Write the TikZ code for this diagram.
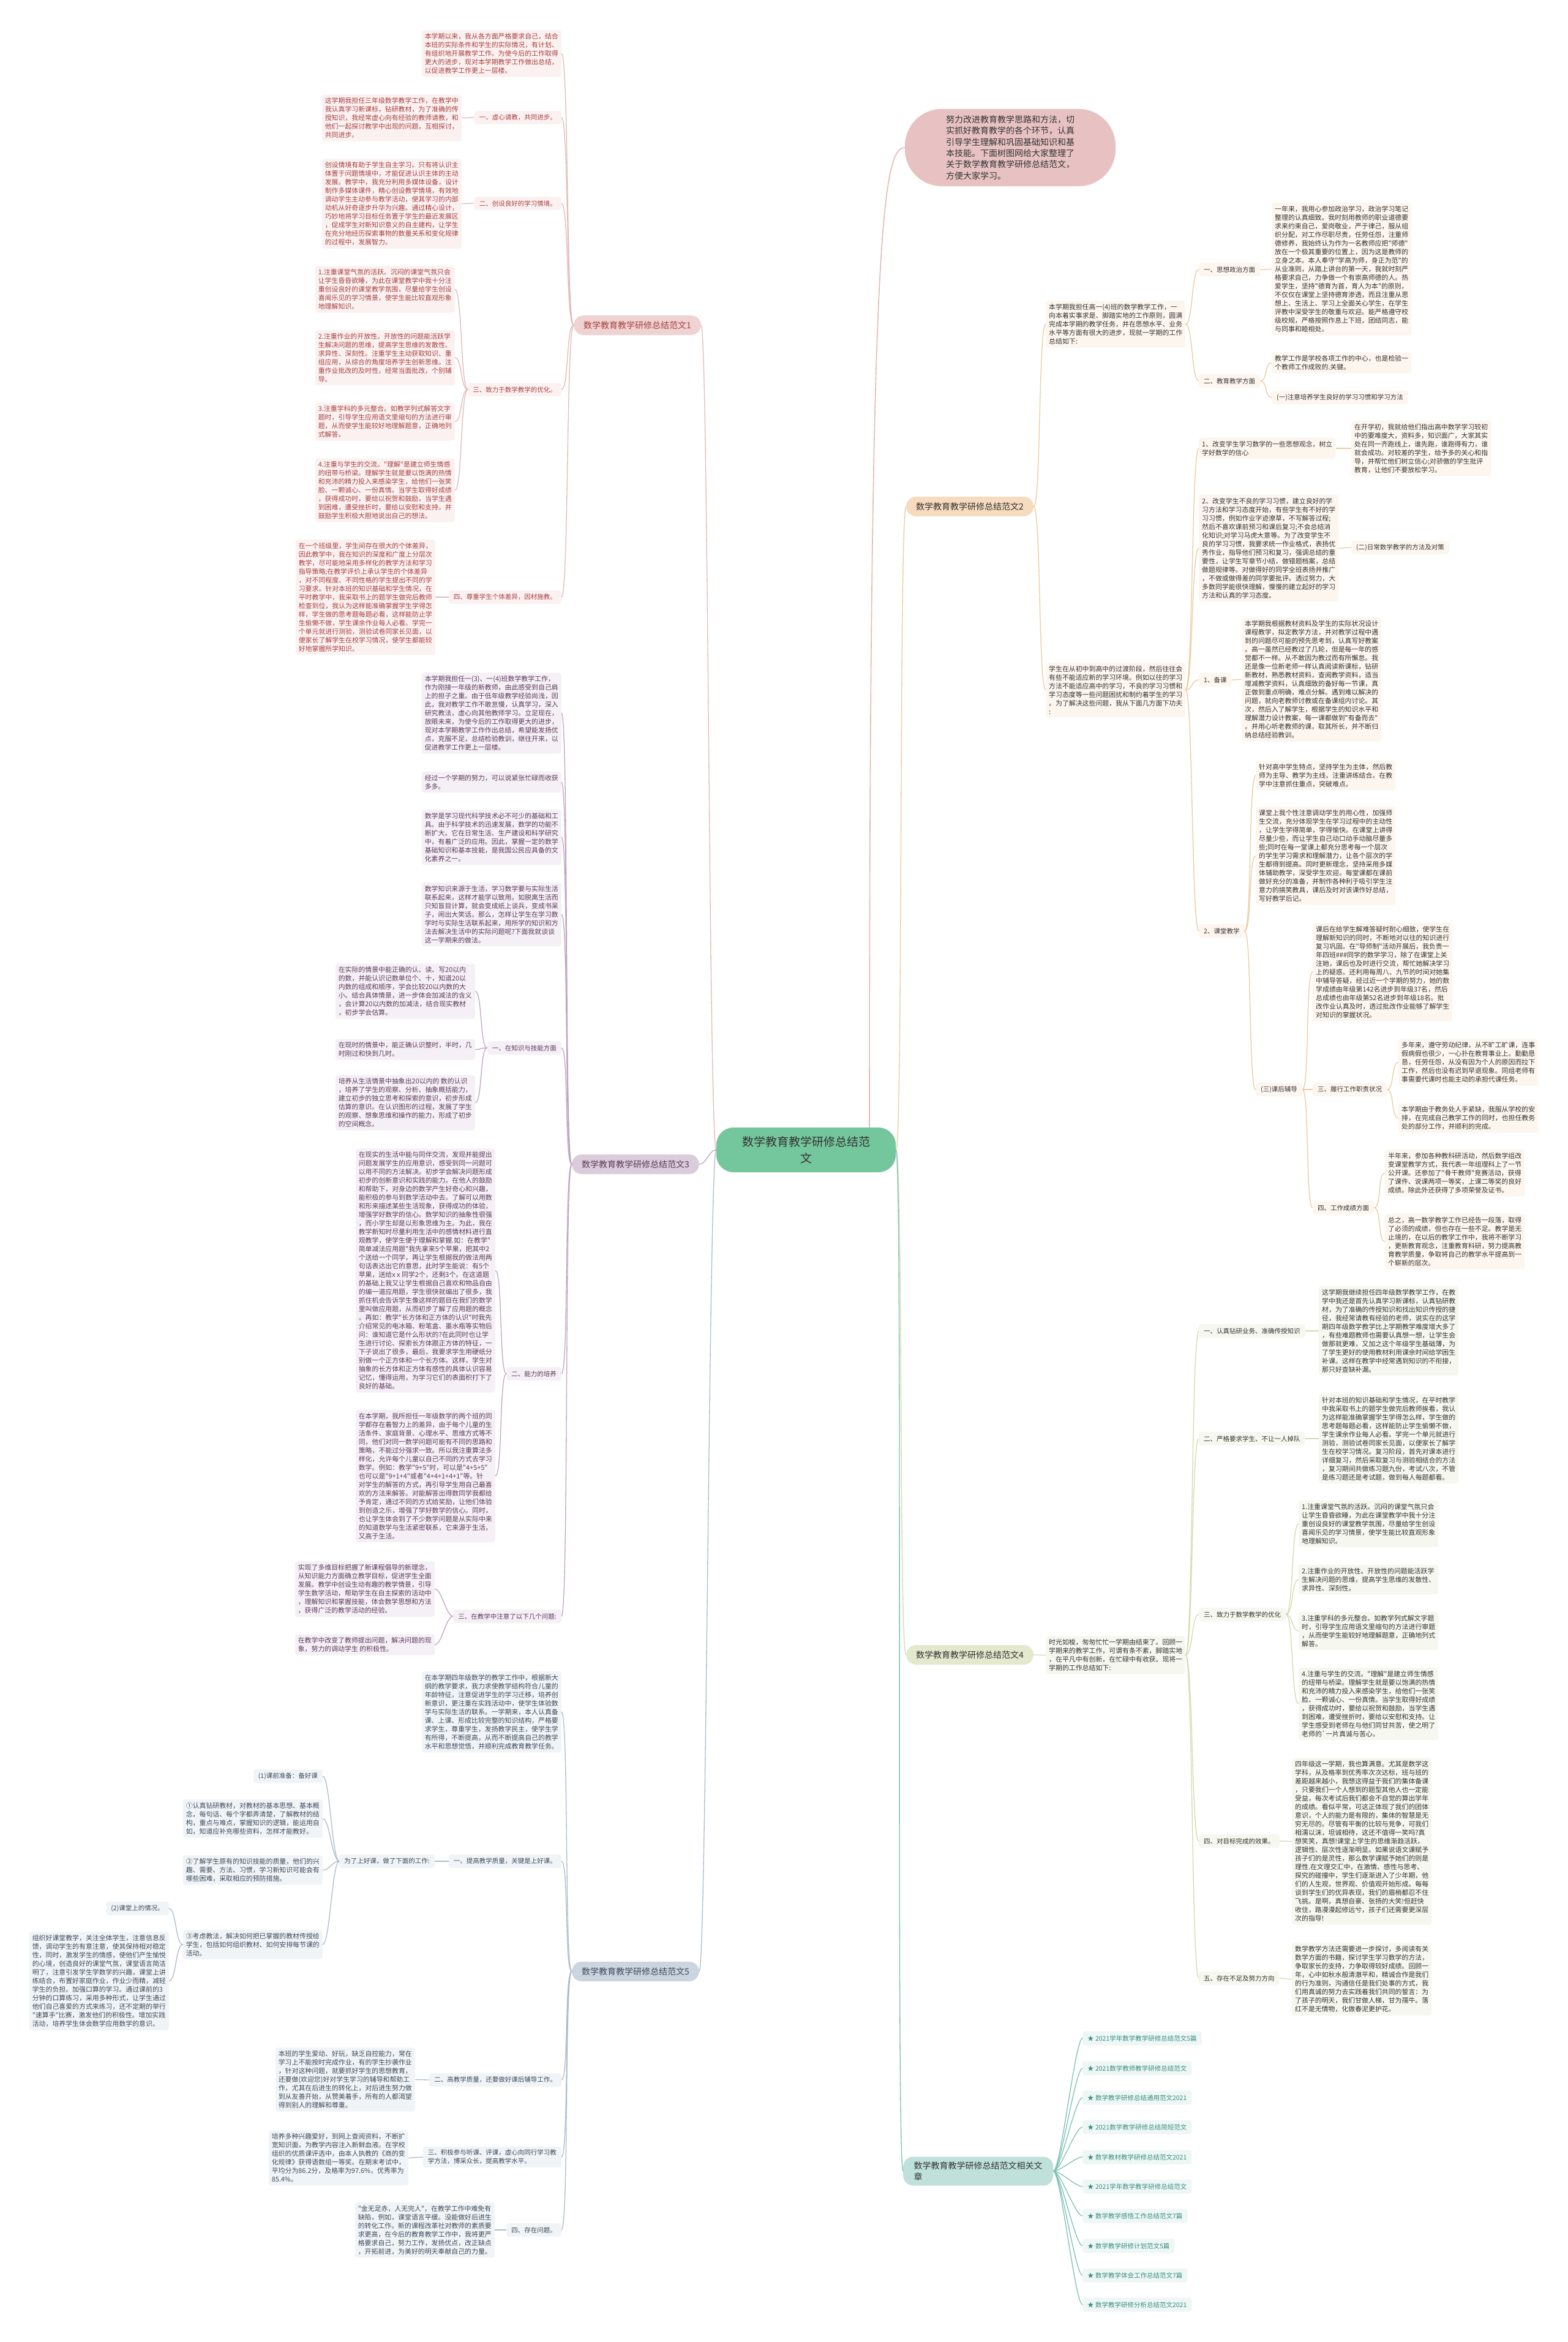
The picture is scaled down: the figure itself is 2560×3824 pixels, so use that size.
\documentclass[tikz,border=0pt]{standalone}
\usepackage{fontspec}
\newfontfamily\cjk{Noto Sans CJK SC}
\definecolor{t1}{HTML}{A8403F}\definecolor{f1}{HTML}{FBF1F1}\definecolor{l1}{HTML}{E3B9B9}\definecolor{h1}{HTML}{EFD2D2}
\definecolor{t2}{HTML}{333333}\definecolor{f2}{HTML}{FDF6EE}\definecolor{l2}{HTML}{EBCB9F}\definecolor{h2}{HTML}{F6DBBE}
\definecolor{t3}{HTML}{5C3A5C}\definecolor{f3}{HTML}{F5F0F5}\definecolor{l3}{HTML}{BFA6BF}\definecolor{h3}{HTML}{DACCDA}
\definecolor{t4}{HTML}{333333}\definecolor{f4}{HTML}{F6F7EF}\definecolor{l4}{HTML}{D5D9B2}\definecolor{h4}{HTML}{E4E8CC}
\definecolor{t5}{HTML}{3B4A5A}\definecolor{f5}{HTML}{F1F4F7}\definecolor{l5}{HTML}{AEBBCA}\definecolor{h5}{HTML}{CBD5DF}
\definecolor{t6}{HTML}{3A8E7E}\definecolor{f6}{HTML}{EEF7F5}\definecolor{l6}{HTML}{7CC2B3}\definecolor{h6}{HTML}{BFE1DA}
\definecolor{cf}{HTML}{74C69C}\definecolor{inf}{HTML}{E8C2C2}
\tikzset{
 leaf/.style={rounded corners=4pt, align=left, inner xsep=5pt, inner ysep=5pt, font=\cjk\fontsize{10.9pt}{14pt}\selectfont},
 sub/.style={rounded corners=4pt, align=left, inner xsep=8pt, inner ysep=5pt, minimum height=22pt, font=\cjk\fontsize{10.5pt}{14pt}\selectfont},
 brl/.style={rounded corners=16pt, align=left, inner xsep=16pt, minimum height=32pt, font=\cjk\fontsize{14pt}{18pt}\selectfont},
 lf1/.style={leaf,fill=f1,text=t1}, sb1/.style={sub,fill=f1,text=t1}, ln1/.style={draw=l1,line width=1.3pt},
 lf2/.style={leaf,fill=f2,text=t2}, sb2/.style={sub,fill=f2,text=t2}, ln2/.style={draw=l2,line width=1.3pt},
 lf3/.style={leaf,fill=f3,text=t3}, sb3/.style={sub,fill=f3,text=t3}, ln3/.style={draw=l3,line width=1.3pt},
 lf4/.style={leaf,fill=f4,text=t4}, sb4/.style={sub,fill=f4,text=t4}, ln4/.style={draw=l4,line width=1.3pt},
 lf5/.style={leaf,fill=f5,text=t5}, sb5/.style={sub,fill=f5,text=t5}, ln5/.style={draw=l5,line width=1.3pt},
 sb6/.style={sub,fill=f6,text=t6,minimum height=23pt}, ln6/.style={draw=l6,line width=1.3pt},
}
\newcommand{\lkL}[3]{\draw[#1] (#2.west) .. controls +(-12,0) and +(12,0) .. (#3.east);}
\newcommand{\lkR}[3]{\draw[#1] (#2.east) .. controls +(12,0) and +(-12,0) .. (#3.west);}
\begin{document}
\begin{tikzpicture}[x=1pt,y=-1pt]
\fill[white] (0,0) rectangle (2560,3824);
\useasboundingbox (0,0) rectangle (2560,3824);
% center and intro
\node[fill=cf, rounded corners=28pt, minimum width=293pt, minimum height=73pt, align=center, text=t2, font=\cjk\fontsize{19pt}{27pt}\selectfont] (C) at (1316.5,1877.5) {数学教育教学研修总结范\\文};
\node[fill=inf, rounded corners=60pt, minimum width=344pt, minimum height=126pt, align=left, text=t2, font=\cjk\fontsize{14pt}{18.3pt}\selectfont] (I) at (1650,241) {努力改进教育教学思路和方法，切\\实抓好教育教学的各个环节，认真\\引导学生理解和巩固基础知识和基\\本技能。下面树图网给大家整理了\\关于数学教育教学研修总结范文，\\方便大家学习。};
% branch labels
\node[brl,fill=h1,text=t1,anchor=east] (B1) at (1145,531) {数学教育教学研修总结范文1};
\node[brl,fill=h3,text=t3,anchor=east] (B3) at (1142,1901) {数学教育教学研修总结范文3};
\node[brl,fill=h5,text=t5,anchor=east] (B5) at (1142,3219) {数学教育教学研修总结范文5};
\node[brl,fill=h2,text=t2,anchor=west] (B2) at (1480,827) {数学教育教学研修总结范文2};
\node[brl,fill=h4,text=t4,anchor=west] (B4) at (1480,2702) {数学教育教学研修总结范文4};
\node[brl,fill=h6,text=t2,anchor=west,inner ysep=8pt,minimum width=245pt] (BR) at (1475,3545) {数学教育教学研修总结范文相关文\\章};
% ===== branch 1 =====
\node[lf1,anchor=east] (b1a) at (917,87.5) {本学期以来，我从各方面严格要求自己，结合\\本班的实际条件和学生的实际情况，有计划、\\有组织地开展教学工作。为使今后的工作取得\\更大的进步，现对本学期教学工作做出总结，\\以促进教学工作更上一层楼。};
\node[sb1,anchor=east] (b1s1) at (917,192) {一、虚心请教，共同进步。};
\node[lf1,anchor=east] (b1s1a) at (754,192.5) {这学期我担任三年级数学教学工作，在教学中\\我认真学习新课标，钻研教材，为了准确的传\\授知识，我经常虚心向有经验的教师请教，和\\他们一起探讨教学中出现的问题，互相探讨，\\共同进步。};
\node[sb1,anchor=east] (b1s2) at (917,332) {二、创设良好的学习情境。};
\node[lf1,anchor=east] (b1s2a) at (754,332.5) {创设情境有助于学生自主学习。只有将认识主\\体置于问题情境中，才能促进认识主体的主动\\发展。教学中，我充分利用多媒体设备，设计\\制作多媒体课件，精心创设教学情境，有效地\\调动学生主动参与教学活动，使其学习的内部\\动机从好奇逐步升华为兴趣。通过精心设计，\\巧妙地将学习目标任务置于学生的最近发展区\\，促成学生对新知识意义的自主建构，让学生\\在充分地经历探索事物的数量关系和变化规律\\的过程中，发展智力。};
\node[sb1,anchor=east] (b1s3) at (917,636) {三、致力于数学教学的优化。};
\node[lf1,anchor=east] (b1s3a) at (743,472.5) {1.注重课堂气氛的活跃。沉闷的课堂气氛只会\\让学生昏昏欲睡，为此在课堂教学中我十分注\\重创设良好的课堂教学氛围，尽量给学生创设\\喜闻乐见的学习情景，使学生能比较直观形象\\地理解知识。};
\node[lf1,anchor=east] (b1s3b) at (743,584) {2.注重作业的开放性。开放性的问题能活跃学\\生解决问题的思维，提高学生思维的发散性、\\求异性、深刻性。注重学生主动获取知识、重\\组应用，从综合的角度培养学生创新思维。注\\重作业批改的及时性，经常当面批改，个别辅\\导。};
\node[lf1,anchor=east] (b1s3c) at (743,688.5) {3.注重学科的多元整合。如教学列式解答文字\\题时，引导学生应用语文里缩句的方法进行审\\题，从而使学生能较好地理解题意，正确地列\\式解答。};
\node[lf1,anchor=east] (b1s3d) at (743,800.5) {4.注重与学生的交流。"理解"是建立师生情感\\的纽带与桥梁。理解学生就是要以饱满的热情\\和充沛的精力投入来感染学生，给他们一张笑\\脸、一颗诚心、一份真情。当学生取得好成绩\\，获得成功时，要给以祝贺和鼓励，当学生遇\\到困难，遭受挫折时，要给以安慰和支持。并\\鼓励学生积极大胆地说出自己的想法。};
\node[sb1,anchor=east] (b1s4) at (917,975) {四、尊重学生个体差异，因材施教。};
\node[lf1,anchor=east] (b1s4a) at (711,975) {在一个班级里，学生间存在很大的个体差异，\\因此教学中，我在知识的深度和广度上分层次\\教学，尽可能地采用多样化的教学方法和学习\\指导策略;在教学评价上承认学生的个体差异\\，对不同程度、不同性格的学生提出不同的学\\习要求。针对本班的知识基础和学生情况，在\\平时教学中，我采取书上的题学生做完后教师\\检查到位，我认为这样能准确掌握学生学得怎\\样，学生做的思考题每题必看，这样能防止学\\生偷懒不做，学生课余作业每人必看。学完一\\个单元就进行测验，测验试卷同家长见面，以\\便家长了解学生在校学习情况，使学生都能较\\好地掌握所学知识。};
% ===== branch 3 =====
\node[lf3,anchor=east] (b3a) at (917,1164.5) {本学期我担任一(3)、一(4)班数学教学工作，\\作为刚接一年级的新教师，由此感受到自己肩\\上的担子之重。由于低年级教学经验尚浅，因\\此，我对教学工作不敢怠慢，认真学习，深入\\研究教法，虚心向其他教师学习。立足现在，\\放眼未来，为使今后的工作取得更大的进步，\\现对本学期教学工作作出总结，希望能发扬优\\点，克服不足，总结检验教训，继往开来，以\\促进教学工作更上一层楼。};
\node[lf3,anchor=east] (b3b) at (917,1277) {经过一个学期的努力，可以说紧张忙碌而收获\\多多。};
\node[lf3,anchor=east] (b3c) at (917,1367) {数学是学习现代科学技术必不可少的基础和工\\具。由于科学技术的迅速发展，数学的功能不\\断扩大。它在日常生活、生产建设和科学研究\\中，有着广泛的应用。因此，掌握一定的数学\\基础知识和基本技能，是我国公民应具备的文\\化素养之一。};
\node[lf3,anchor=east] (b3d) at (917,1493) {数学知识来源于生活，学习数学要与实际生活\\联系起来，这样才能学以致用。如脱离生活而\\只知盲目计算，就会变成纸上谈兵，变成书呆\\子，闹出大笑话。那么，怎样让学生在学习数\\学时与实际生活联系起来，用所学的知识和方\\法去解决生活中的实际问题呢?下面我就谈谈\\这一学期来的做法。};
\node[sb3,anchor=east] (b3s1) at (917,1711) {一、在知识与技能方面};
\node[lf3,anchor=east] (b3e1) at (776,1618.5) {在实际的情景中能正确的认、读、写20以内\\的数，并能认识记数单位个、十，知道20以\\内数的组成和顺序，学会比较20以内数的大\\小。结合具体情景，进一步体会加减法的含义\\，会计算20以内数的加减法，结合现实教材\\，初步学会估算。};
\node[lf3,anchor=east] (b3e2) at (776,1713.5) {在现时的情景中，能正确认识整时，半时，几\\时刚过和快到几时。};
\node[lf3,anchor=east] (b3e3) at (776,1800.5) {培养从生活情景中抽象出20以内的 数的认识\\，培养了学生的观察、分析、抽象概括能力，\\建立初步的独立思考和探索的意识，初步形成\\估算的意识。在认识图形的过程，发展了学生\\的观察、想象思维和操作的能力，形成了初步\\的空间概念。};
\node[sb3,anchor=east] (b3s2) at (917,2243) {二、能力的培养};
\node[lf3,anchor=east] (b3f1) at (809,2074.5) {在现实的生活中能与同伴交流，发现并能提出\\问题发展学生的应用意识，感受到同一问题可\\以用不同的方法解决。初步学会解决问题形成\\初步的创新意识和实践的能力。在他人的鼓励\\和帮助下，对身边的数学产生好奇心和兴趣，\\能积极的参与到数学活动中去。了解可以用数\\和形来描述某些生活现象，获得成功的体验，\\增强学好数学的信心。数学知识的抽象性很强\\，而小学生却是以形象思维为主。为此，我在\\教学新知时尽量利用生活中的感情材料进行直\\观教学，使学生便于理解和掌握.如：在教学"\\简单减法应用题"我先拿来5个苹果，把其中2\\个送给一个同学，再让学生根据我的做法用两\\句话表达出它的意思，此时学生能说：有5个\\苹果，送给x x 同学2个，还剩3个。在这道题\\的基础上我又让学生根据自己喜欢和物品自由\\的编一道应用题，学生很快就编出了很多，我\\抓住机会告诉学生像这样的题目在我们的数学\\里叫做应用题，从而初步了解了应用题的概念\\。再如：教学"长方体和正方体的认识"时我先\\介绍常见的电冰箱、粉笔盒、墨水瓶等实物后\\问：谁知道它是什么形状的?在此同时也让学\\生进行讨论、探索长方体跟正方体的特征，一\\下子说出了很多，最后，我要求学生用硬纸分\\别做一个正方体和一个长方体。这样，学生对\\抽象的长方体和正方体有感性的具体认识容易\\记忆，懂得运用，为学习它们的表面积打下了\\良好的基础。};
\node[lf3,anchor=east] (b3f2) at (809,2410) {在本学期，我所担任一年级数学的两个班的同\\学都存在着智力上的差异，由于每个儿童的生\\活条件、家庭背景、心理水平、思维方式等不\\同，他们对同一数学问题可能有不同的思路和\\策略，不能过分强求一致。所以我注重算法多\\样化，允许每个儿童以自己不同的方式去学习\\数学。例如：教学"9+5"时，可以是"4+5+5"\\也可以是"9+1+4"或者"4+4+1+4+1"等。针\\对学生的解答的方式，再引导学生用自己最喜\\欢的方法来解答。对能解答出得数同学我都给\\予肯定，通过不同的方式给奖励，让他们体验\\到创造之乐，增强了学好数学的信心。同时，\\也让学生体会到了不少数学问题是从实际中来\\的知道数学与生活紧密联系，它来源于生活，\\又高于生活。};
\node[sb3,anchor=east] (b3s3) at (917,2639) {三、在教学中注意了以下几个问题:};
\node[lf3,anchor=east] (b3g1) at (710,2594.5) {实现了多维目标把握了新课程倡导的新理念，\\从知识能力方面确立教学目标，促进学生全面\\发展。教学中创设生动有趣的教学情景，引导\\学生数学活动，帮助学生在自主探索的活动中\\，理解知识和掌握技能，体会数学思想和方法\\，获得广泛的教学活动的经验。};
\node[lf3,anchor=east] (b3g2) at (710,2685.5) {在教学中改变了教师提出问题，解决问题的现\\象，努力的调动学生 的积极性。};
% ===== branch 5 =====
\node[lf5,anchor=east] (b5a) at (917,2795) {在本学期四年级数学的教学工作中，根据新大\\纲的教学要求，我力求使教学结构符合儿童的\\年龄特征，注意促进学生的学习迁移，培养创\\新意识，更注重在实践活动中，使学生体验数\\学与实际生活的联系。一学期来，本人认真备\\课、上课、形成比较完整的知识结构，严格要\\求学生，尊重学生，发扬教学民主，使学生学\\有所得，不断提高，从而不断提高自己的教学\\水平和思想觉悟，并顺利完成教育教学任务。};
\node[sb5,anchor=east] (b5s1) at (917,3039) {一、提高教学质量，关键是上好课。};
\node[sb5,anchor=east] (b5s1a) at (710,3039) {为了上好课，做了下面的工作:};
\node[sb5,anchor=east] (b5p1) at (527,2900) {(1)课前准备：备好课};
\node[lf5,anchor=east] (b5p2) at (527,2969.5) {①认真钻研教材，对教材的基本思想、基本概\\念，每句话、每个字都弄清楚，了解教材的结\\构，重点与难点，掌握知识的逻辑，能运用自\\如，知道应补充哪些资料，怎样才能教好。};
\node[lf5,anchor=east] (b5p3) at (527,3053.5) {②了解学生原有的知识技能的质量，他们的兴\\趣、需要、方法、习惯，学习新知识可能会有\\哪些困难，采取相应的预防措施。};
\node[lf5,anchor=east] (b5p4) at (527,3175) {③考虑教法，解决如何把已掌握的教材传授给\\学生，包括如何组织教材、如何安排每节课的\\活动。};
\node[sb5,anchor=east] (b5q1) at (276,3116) {(2)课堂上的情况。};
\node[lf5,anchor=east] (b5q2) at (276,3234.5) {组织好课堂教学，关注全体学生，注意信息反\\馈，调动学生的有意注意，使其保持相对稳定\\性，同时，激发学生的情感，使他们产生愉悦\\的心境，创造良好的课堂气氛，课堂语言简洁\\明了，注意引发学生学数学的兴趣，课堂上讲\\练结合，布置好家庭作业，作业少而精，减轻\\学生的负担。加强口算的学习。通过课前的3\\分钟的口算练习，采用多种形式，让学生通过\\他们自己喜爱的方式来练习，还不定期的举行\\"速算手"比赛，激发他们的积极性。增加实践\\活动，培养学生体会数学应用数学的意识。};
\node[sb5,anchor=east] (b5s2) at (917,3396) {二、高教学质量，还要做好课后辅导工作。};
\node[lf5,anchor=east] (b5s2a) at (678,3395.5) {本班的学生爱动、好玩，缺乏自控能力，常在\\学习上不能按时完成作业，有的学生抄袭作业\\，针对这种问题，就要抓好学生的思想教育，\\还要做(欢迎您)好对学生学习的辅导和帮助工\\作，尤其在后进生的转化上，对后进生努力做\\到从友善开始，从赞美着手，所有的人都渴望\\得到别人的理解和尊重。};
\node[sb5,anchor=east] (b5s3) at (917,3522) {三、积极参与听课、评课，虚心向同行学习教\\学方法，博采众长，提高教学水平。};
\node[lf5,anchor=east] (b5s3a) at (667,3523.5) {培养多种兴趣爱好，到网上查阅资料，不断扩\\宽知识面，为教学内容注入新鲜血液。在学校\\组织的优质课评选中，由本人执教的《商的变\\化规律》获得语数组一等奖。在期末考试中，\\平均分为86.2分，及格率为97.6\%，优秀率为\\85.4\%。};
\node[sb5,anchor=east] (b5s4) at (917,3641) {四、存在问题。};
\node[lf5,anchor=east] (b5s4a) at (808,3641) {"金无足赤，人无完人"，在教学工作中难免有\\缺陷，例如，课堂语言平缓。没能做好后进生\\的转化工作。新的课程改革社对教师的素质要\\求更高，在今后的教育教学工作中，我将更严\\格要求自己，努力工作，发扬优点，改正缺点\\，开拓前进，为美好的明天奉献自己的力量。};
% ===== branch 2 =====
\node[lf2,anchor=west] (b2a) at (1708,529.5) {本学期我担任高一(4)班的数学教学工作，一\\向本着实事求是、脚踏实地的工作原则，圆满\\完成本学期的教学任务，并在思想水平、业务\\水平等方面有很大的进步，现就一学期的工作\\总结如下:};
\node[sb2,anchor=west] (b2a1) at (1958,440) {一、思想政治方面};
\node[lf2,anchor=west] (b2a1a) at (2077,439.5) {一年来，我用心参加政治学习，政治学习笔记\\整理的认真细致。我时刻用教师的职业道德要\\求来约束自己，爱岗敬业，严于律己，服从组\\织分配，对工作尽职尽责，任劳任怨，注重师\\德修养，我始终认为作为一名教师应把"师德"\\放在一个极其重要的位置上，因为这是教师的\\立身之本。本人奉守"学高为师，身正为范"的\\从业准则，从踏上讲台的第一天，我就时刻严\\格要求自己，力争做一个有崇高师德的人。热\\爱学生，坚持"德育为首，育人为本"的原则，\\不仅仅在课堂上坚持德育渗透，而且注重从思\\想上、生活上、学习上全面关心学生，在学生\\评教中深受学生的敬重与欢迎。能严格遵守校\\级校规，严格按照作息上下班，团结同志，能\\与同事和睦相处。};
\node[sb2,anchor=west] (b2a2) at (1958,622) {二、教育教学方面};
\node[lf2,anchor=west] (b2a2a) at (2077,592.5) {教学工作是学校各项工作的中心，也是检验一\\个教师工作成败的.关键。};
\node[sb2,anchor=west] (b2a2b) at (2077,649) {(一)注意培养学生良好的学习习惯和学习方法};
\node[lf2,anchor=west] (b2b) at (1708,1126.5) {学生在从初中到高中的过渡阶段，然后往往会\\有些不能适应新的学习环境。例如以往的学习\\方法不能适应高中的学习，不良的学习习惯和\\学习态度等一些问题困扰和制约着学生的学习\\。为了解决这些问题，我从下面几方面下功夫\\:};
\node[lf2,anchor=west] (b2b1) at (1958,732) {1、改变学生学习数学的一些思想观念，树立\\学好数学的信心};
\node[lf2,anchor=west] (b2b1a) at (2207,732) {在开学初，我就给他们指出高中数学学习较初\\中的要难度大，资料多，知识面广，大家其实\\处在同一齐跑线上，谁先跑，谁跑得有力，谁\\就会成功。对较差的学生，给予多的关心和指\\导，并帮忙他们树立信心;对骄傲的学生批评\\教育，让他们不要放松学习。};
\node[lf2,anchor=west] (b2b2) at (1958,895) {2、改变学生不良的学习习惯，建立良好的学\\习方法和学习态度开始，有些学生有不好的学\\习习惯，例如作业字迹潦草，不写解答过程;\\然后不喜欢课前预习和课后复习;不会总结消\\化知识;对学习马虎大意等。为了改变学生不\\良的学习习惯，我要求统一作业格式，表扬优\\秀作业，指导他们预习和复习，强调总结的重\\要性，让学生写章节小结，做错题档案，总结\\做题规律等。对做得好的同学全班表扬并推广\\，不做或做得差的同学要批评。透过努力，大\\多数同学能很快理解，慢慢的建立起好的学习\\方法和认真的学习态度。};
\node[sb2,anchor=west] (b2b2a) at (2207,894) {(二)日常数学教学的方法及对策};
\node[sb2,anchor=west] (b2b3) at (1958,1110) {1、备课};
\node[lf2,anchor=west] (b2b3a) at (2028,1109.5) {本学期我根据教材资料及学生的实际状况设计\\课程教学，拟定教学方法，并对教学过程中遇\\到的问题尽可能的预先思考到，认真写好教案\\。高一虽然已经教过了几轮，但是每一年的感\\觉都不一样。从不敢因为教过而有所懈怠。我\\还是像一位新老师一样认真阅读新课标，钻研\\新教材，熟悉教材资料，查阅教学资料，适当\\增减教学资料，认真细致的备好每一节课，真\\正做到重点明确，难点分解。遇到难以解决的\\问题，就向老教师讨教或在备课组内讨论。其\\次，然后入了解学生，根据学生的知识水平和\\理解潜力设计教案，每一课都做到"有备而去"\\。并用心听老教师的课，取其所长，并不断归\\纳总结经验教训。};
\node[sb2,anchor=west] (b2b4) at (1958,1520) {2、课堂教学};
\node[lf2,anchor=west] (b2c1) at (2051,1266) {针对高中学生特点，坚持学生为主体，然后教\\师为主导、教学为主线，注重讲练结合。在教\\学中注意抓住重点，突破难点。};
\node[lf2,anchor=west] (b2c2) at (2051,1397.5) {课堂上我个性注意调动学生的用心性，加强师\\生交流，充分体现学生在学习过程中的主动性\\，让学生学得简单，学得愉快。在课堂上讲得\\尽量少些，而让学生自己动口动手动脑尽量多\\些;同时在每一堂课上都充分思考每一个层次\\的学生学习需求和理解潜力，让各个层次的学\\生都得到提高。同时更新理念，坚持采用多媒\\体辅助教学，深受学生欢迎。每堂课都在课前\\做好充分的准备，并制作各种利于吸引学生注\\意力的搞笑教具，课后及时对该课作好总结，\\写好教学后记。};
\node[sb2,anchor=west] (b2c3) at (2051,1779) {(三)课后辅导};
\node[lf2,anchor=west] (b2d1) at (2144,1587) {课后在给学生解难答疑时耐心细致，使学生在\\理解新知识的同时，不断地对以往的知识进行\\复习巩固。在"导师制"活动开展后，我负责一\\年四班\#\#\#同学的数学学习，除了在课堂上关\\注她，课后也及时进行交流，帮忙她解决学习\\上的疑惑。还利用每周八、九节的时间对她集\\中辅导答疑，经过近一个学期的努力，她的数\\学成绩由年级第142名进步到年级37名，然后\\总成绩也由年级第52名进步到年级18名。批\\改作业认真及时，透过批改作业能够了解学生\\对知识的掌握状况。};
\node[sb2,anchor=west] (b2d2) at (2144,1779) {三、履行工作职责状况};
\node[sb2,anchor=west] (b2d3) at (2144,1972) {四、工作成绩方面};
\node[lf2,anchor=west] (b2e1) at (2284,1734.5) {多年来，遵守劳动纪律，从不旷工旷课，连事\\假病假也很少，一心扑在教育事业上。勤勤恳\\恳，任劳任怨，从没有因为个人的原因而拉下\\工作，然后也没有迟到早退现象。同组老师有\\事需要代课时也能主动的承担代课任务。};
\node[lf2,anchor=west] (b2e2) at (2284,1825.5) {本学期由于教务处人手紧缺，我服从学校的安\\排，在完成自己教学工作的同时，也担任教务\\处的部分工作，并顺利的完成。};
\node[lf2,anchor=west] (b2e3) at (2262,1915) {半年来，参加各种教科研活动，然后数学组改\\变课堂教学方式，我代表一年组理科上了一节\\公开课。还参加了"骨干教师"竞赛活动，获得\\了课件、说课两项一等奖，上课二等奖的良好\\成绩。除此外还获得了多项荣誉及证书。};
\node[lf2,anchor=west] (b2e4) at (2262,2027) {总之，高一数学教学工作已经告一段落，取得\\了必须的成绩，但也存在一些不足。教学是无\\止境的，在以后的教学工作中，我将不断学习\\，更新教育观念，注重教育科研，努力提高教\\育教学质量，争取将自己的教学水平提高到一\\个崭新的层次。};
% ===== branch 4 =====
\node[lf4,anchor=west] (b4a) at (1708,2702.5) {时光如梭，匆匆忙忙一学期由结束了。回顾一\\学期来的教学工作，可谓有条不紊，脚踏实地\\，在平凡中有创新，在忙碌中有收获。现将一\\学期的工作总结如下:};
\node[sb4,anchor=west] (b4s1) at (1958,2173) {一、认真钻研业务、准确传授知识};
\node[lf4,anchor=west] (b4s1a) at (2154,2173) {这学期我继续担任四年级数学教学工作，在教\\学中我还是首先认真学习新课标，认真钻研教\\材，为了准确的传授知识和找出知识传授的捷\\径，我经常请教有经验的老师，说实在的这学\\期四年级数学教学比上学期教学难度增大多了\\，有些难题教师也需要认真想一想，让学生会\\做那就更难，又加之这个年级学生基础薄，为\\了学生更好的使用教材利用课余时间给学困生\\补课。这样在教学中经常遇到知识的不衔接，\\那只好查缺补漏。};
\node[sb4,anchor=west] (b4s2) at (1958,2349) {二、严格要求学生、不让一人掉队};
\node[lf4,anchor=west] (b4s2a) at (2154,2349) {针对本班的知识基础和学生情况，在平时教学\\中我采取书上的题学生做完后教师挨看，我认\\为这样能准确掌握学生学得怎么样，学生做的\\思考题每题必看，这样能防止学生偷懒不做，\\学生课余作业每人必看。学完一个单元就进行\\测验，测验试卷同家长见面，以便家长了解学\\生在校学习情况。复习阶段，首先对课本进行\\详细复习，然后采取复习与测验相结合的方法\\，复习期间共做练习题九份，考试八次，不管\\是练习题还是考试题，做到每人每题都看。};
\node[sb4,anchor=west] (b4s3) at (1958,2636) {三、致力于数学教学的优化};
\node[lf4,anchor=west] (b4s3a) at (2121,2488) {1.注重课堂气氛的活跃。沉闷的课堂气氛只会\\让学生昏昏欲睡，为此在课堂教学中我十分注\\重创设良好的课堂教学氛围，尽量给学生创设\\喜闻乐见的学习情景，使学生能比较直观形象\\地理解知识。};
\node[lf4,anchor=west] (b4s3b) at (2121,2579) {2.注重作业的开放性。开放性的问题能活跃学\\生解决问题的思维，提高学生思维的发散性、\\求异性、深刻性。};
\node[lf4,anchor=west] (b4s3c) at (2121,2663) {3.注重学科的多元整合。如教学列式解文字题\\时，引导学生应用语文里缩句的方法进行审题\\，从而使学生能较好地理解题意，正确地列式\\解答。};
\node[lf4,anchor=west] (b4s3d) at (2121,2782) {4.注重与学生的交流。"理解"是建立师生情感\\的纽带与桥梁。理解学生就是要以饱满的热情\\和充沛的精力投入来感染学生，给他们一张笑\\脸、一颗诚心、一份真情。当学生取得好成绩\\，获得成功时，要给以祝贺和鼓励，当学生遇\\到困难，遭受挫折时，要给以安慰和支持。让\\学生感受到老师在与他们同甘共苦，使之明了\\老师的`一片真诚与苦心。};
\node[sb4,anchor=west] (b4s4) at (1958,3006) {四、对目标完成的效果。};
\node[lf4,anchor=west] (b4s4a) at (2110,3006.5) {四年级这一学期，我也算满意。尤其是数学这\\学科，从及格率到优秀率次次达标，班与班的\\差距越来越小，我想这得益于我们的集体备课\\，只要我们一个人想到的题型其他人也一定能\\受益，每次考试后我们都会不自觉的算出学年\\的成绩。看似平常，可这正体现了我们的团体\\意识，个人的能力是有限的，集体的智慧是无\\穷无尽的。尽管有平衡的比较与竞争，可我们\\相濡以沫，坦诚相待，这还不值得一笑吗?真\\想笑笑，真想!课堂上学生的思维渐趋活跃，\\逻辑性、层次性逐渐明显。如果说语文课赋予\\孩子们的是灵性，那么数学课赋予她们的则是\\理性.在文理交汇中，在激情、感性与思考、\\探究的碰撞中，学生们逐渐进入了少年期，他\\们的人生观，世界观、价值观开始形成。每每\\谈到学生们的优异表现，我们的眉梢都忍不住\\飞挑。是啊，真想自豪、张扬的大笑!但赶快\\收住，路漫漫起修远兮，孩子们还需要更深层\\次的指导!};
\node[sb4,anchor=west] (b4s5) at (1958,3230) {五、存在不足及努力方向};
\node[lf4,anchor=west] (b4s5a) at (2110,3231.5) {数学教学方法还需要进一步探讨，多阅读有关\\数学方面的书籍，探讨学生学习数学的方法，\\争取家长的支持，力争取得较好成绩。回顾一\\年，心中如秋水般清澈平和，精诚合作是我们\\的行为准则，沟通信任是我们处事的方式，我\\们用真诚的努力去实践着我们共同的誓言：为\\了孩子的明天，我们甘做人梯，甘为孺牛。落\\红不是无情物，化做春泥更护花。};
% ===== related =====
\node[sb6,anchor=west] (r1) at (1768,3328) {★ 2021学年数学教学研修总结范文5篇};
\node[sb6,anchor=west] (r2) at (1768,3377) {★ 2021数学教师教学研修总结范文};
\node[sb6,anchor=west] (r3) at (1768,3425) {★ 数学教学研修总结通用范文2021};
\node[sb6,anchor=west] (r4) at (1768,3473) {★ 2021数学教学研修总结简短范文};
\node[sb6,anchor=west] (r5) at (1768,3522) {★ 数学教材教学研修总结范文2021};
\node[sb6,anchor=west] (r6) at (1768,3570) {★ 2021学年数学教学研修总结范文};
\node[sb6,anchor=west] (r7) at (1768,3618) {★ 数学教学感悟工作总结范文7篇};
\node[sb6,anchor=west] (r8) at (1768,3667) {★ 数学教学研修计划范文5篇};
\node[sb6,anchor=west] (r9) at (1768,3715) {★ 数学教学体会工作总结范文7篇};
\node[sb6,anchor=west] (r10) at (1768,3763) {★ 数学教学研修分析总结范文2021};
% ===== connectors =====
\draw[draw=l1,line width=1.6pt] (1420,1841) .. controls (1420,400) and (1440,241) .. (I.west);
\lkL{ln1}{C}{B1} \lkL{ln3}{C}{B3} \lkL{ln5}{C}{B5}
\lkR{ln2}{C}{B2} \lkR{ln4}{C}{B4} \lkR{ln6}{C}{BR}
\lkL{ln1}{B1}{b1a} \lkL{ln1}{B1}{b1s1} \lkL{ln1}{B1}{b1s2} \lkL{ln1}{B1}{b1s3} \lkL{ln1}{B1}{b1s4}
\lkL{ln1}{b1s1}{b1s1a} \lkL{ln1}{b1s2}{b1s2a} \lkL{ln1}{b1s4}{b1s4a}
\lkL{ln1}{b1s3}{b1s3a} \lkL{ln1}{b1s3}{b1s3b} \lkL{ln1}{b1s3}{b1s3c} \lkL{ln1}{b1s3}{b1s3d}
\lkL{ln3}{B3}{b3a} \lkL{ln3}{B3}{b3b} \lkL{ln3}{B3}{b3c} \lkL{ln3}{B3}{b3d} \lkL{ln3}{B3}{b3s1} \lkL{ln3}{B3}{b3s2} \lkL{ln3}{B3}{b3s3}
\lkL{ln3}{b3s1}{b3e1} \lkL{ln3}{b3s1}{b3e2} \lkL{ln3}{b3s1}{b3e3}
\lkL{ln3}{b3s2}{b3f1} \lkL{ln3}{b3s2}{b3f2} \lkL{ln3}{b3s3}{b3g1} \lkL{ln3}{b3s3}{b3g2}
\lkL{ln5}{B5}{b5a} \lkL{ln5}{B5}{b5s1} \lkL{ln5}{B5}{b5s2} \lkL{ln5}{B5}{b5s3} \lkL{ln5}{B5}{b5s4}
\lkL{ln5}{b5s1}{b5s1a} \lkL{ln5}{b5s1a}{b5p1} \lkL{ln5}{b5s1a}{b5p2} \lkL{ln5}{b5s1a}{b5p3} \lkL{ln5}{b5s1a}{b5p4}
\lkL{ln5}{b5p4}{b5q1} \lkL{ln5}{b5p4}{b5q2}
\lkL{ln5}{b5s2}{b5s2a} \lkL{ln5}{b5s3}{b5s3a} \lkL{ln5}{b5s4}{b5s4a}
\lkR{ln2}{B2}{b2a} \lkR{ln2}{B2}{b2b}
\lkR{ln2}{b2a}{b2a1} \lkR{ln2}{b2a}{b2a2} \lkR{ln2}{b2a1}{b2a1a} \lkR{ln2}{b2a2}{b2a2a} \lkR{ln2}{b2a2}{b2a2b}
\lkR{ln2}{b2b}{b2b1} \lkR{ln2}{b2b}{b2b2} \lkR{ln2}{b2b}{b2b3} \lkR{ln2}{b2b}{b2b4}
\lkR{ln2}{b2b1}{b2b1a} \lkR{ln2}{b2b2}{b2b2a} \lkR{ln2}{b2b3}{b2b3a}
\lkR{ln2}{b2b4}{b2c1} \lkR{ln2}{b2b4}{b2c2} \lkR{ln2}{b2b4}{b2c3}
\lkR{ln2}{b2c3}{b2d1} \lkR{ln2}{b2c3}{b2d2} \lkR{ln2}{b2c3}{b2d3}
\lkR{ln2}{b2d2}{b2e1} \lkR{ln2}{b2d2}{b2e2} \lkR{ln2}{b2d3}{b2e3} \lkR{ln2}{b2d3}{b2e4}
\lkR{ln4}{B4}{b4a}
\lkR{ln4}{b4a}{b4s1} \lkR{ln4}{b4a}{b4s2} \lkR{ln4}{b4a}{b4s3} \lkR{ln4}{b4a}{b4s4} \lkR{ln4}{b4a}{b4s5}
\lkR{ln4}{b4s1}{b4s1a} \lkR{ln4}{b4s2}{b4s2a}
\lkR{ln4}{b4s3}{b4s3a} \lkR{ln4}{b4s3}{b4s3b} \lkR{ln4}{b4s3}{b4s3c} \lkR{ln4}{b4s3}{b4s3d}
\lkR{ln4}{b4s4}{b4s4a} \lkR{ln4}{b4s5}{b4s5a}
\lkR{ln6}{BR}{r1} \lkR{ln6}{BR}{r2} \lkR{ln6}{BR}{r3} \lkR{ln6}{BR}{r4} \lkR{ln6}{BR}{r5}
\lkR{ln6}{BR}{r6} \lkR{ln6}{BR}{r7} \lkR{ln6}{BR}{r8} \lkR{ln6}{BR}{r9} \lkR{ln6}{BR}{r10}
\end{tikzpicture}
\end{document}
